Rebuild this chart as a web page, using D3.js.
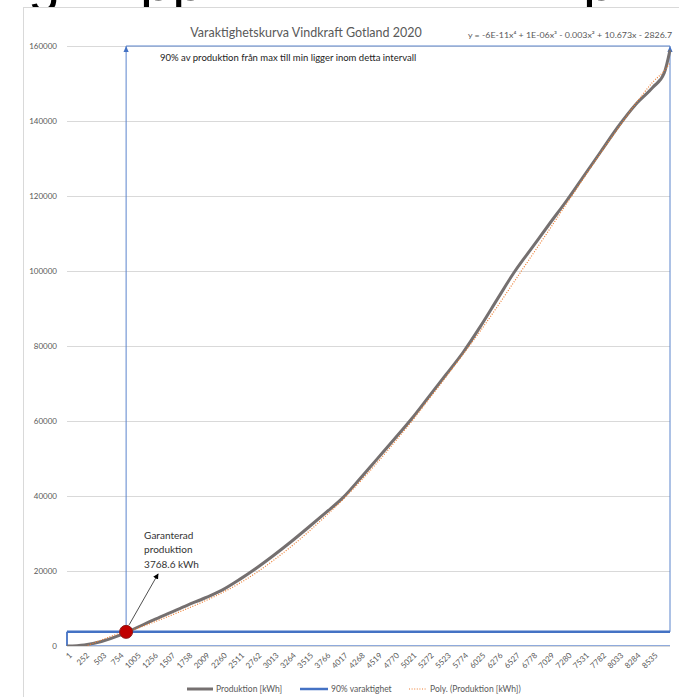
<!DOCTYPE html>
<html><head><meta charset="utf-8">
<script src="https://cdn.jsdelivr.net/npm/d3@7"></script>
<style>
body{margin:0;background:#fff;}
svg{display:block;font-family:Lato,'Open Sans',sans-serif;}
</style>
</head><body>
<svg id="c" width="679" height="697"></svg>
<script>
// ---- data ----
const hours = [1,252,503,754,1005,1256,1507,1758,2009,2260,2511,2762,3013,3264,3515,3766,4017,4268,4519,4770,5021,5272,5523,5774,6025,6276,6527,6778,7029,7280,7531,7782,8033,8284,8535,8700,8784];
const production = [0,300,1200,2750,4800,6900,8900,10900,12800,14900,17700,20800,24200,27800,31600,35500,39500,44600,49900,55200,60600,66500,72400,78400,85300,92700,100000,106300,112600,118800,125400,132000,138600,144400,149000,152800,158900];
const polyTrend = [-2800,-300,1600,3300,4600,6300,8100,10000,12000,14200,16700,19600,22900,26500,30400,34600,39000,43800,48900,54300,59900,65800,71800,77900,84100,90700,97500,104300,111100,118000,124900,131700,138200,144600,150400,153400,155500];
const xTickLabels = [1,252,503,754,1005,1256,1507,1758,2009,2260,2511,2762,3013,3264,3515,3766,4017,4268,4519,4770,5021,5272,5523,5774,6025,6276,6527,6778,7029,7280,7531,7782,8033,8284,8535];
const yTicks = [0,20000,40000,60000,80000,100000,120000,140000,160000];
const totalHours = 8784;
const guaranteedHour = 862;
const guaranteedValue = 3768.6;
const yMax = 160000;
const titleText = "Varaktighetskurva Vindkraft Gotland 2020";
const equationText = "y = -6E-11x⁴ + 1E-06x³ - 0.003x² + 10.673x - 2826.7";
const intervalText = "90% av produktion från max till min ligger inom detta intervall";
const annotationLines = ["Garanterad","produktion","3768.6 kWh"];
const legendNames = ["Produktion [kWh]","90% varaktighet","Poly. (Produktion [kWh])"];

// ---- layout ----
const svg = d3.select("#c");
const L = 67, R = 670, T = 46, B = 646;
const x = d3.scaleLinear().domain([1,totalHours]).range([L,R]);
const y = d3.scaleLinear().domain([0,yMax]).range([B,T]);
const grey = "#595959", gridC = "#d9d9d9", blue = "#4472C4";

// clipped heading descenders at the very top (page heading above the chart)
const head = svg.append("text").attr("y",0).attr("font-family","'Liberation Sans',Arial,sans-serif").attr("font-size",58).attr("fill","#000");
head.append("tspan").attr("x",28).text("g");
head.append("tspan").attr("x",140).text("pp");
head.append("tspan").attr("x",583).text("p");

// chart frame
svg.append("rect").attr("x",23.5).attr("y",7.5).attr("width",700).attr("height",700)
  .attr("fill","#fff").attr("stroke",gridC).attr("stroke-width",1);

// y axis + gridlines
const ya = svg.append("g").attr("transform",`translate(${L},0)`)
  .call(d3.axisLeft(y).tickValues(yTicks).tickSize(-(R-L)).tickPadding(10).tickFormat(d3.format("d")));
ya.select(".domain").remove();
ya.selectAll("line").attr("stroke",gridC);
ya.selectAll("text").attr("fill",grey).attr("font-size",8).attr("font-family","Lato,sans-serif");

// x axis
const xa = svg.append("g").attr("transform",`translate(0,${B})`)
  .call(d3.axisBottom(x).tickValues(xTickLabels).tickSize(0).tickFormat(d3.format("d")));
xa.select(".domain").attr("stroke",gridC).attr("d",`M${L},0.5H${R}`);
xa.selectAll("text").attr("fill",grey).attr("font-size",8).attr("font-family","Lato,sans-serif")
  .attr("text-anchor","end").attr("x",0).attr("y",0).attr("dy","0.35em")
  .attr("transform","translate(3,8) rotate(-45)");

// title & equation
svg.append("text").attr("x",306).attr("y",37).attr("text-anchor","middle")
  .attr("font-size",12.5).attr("fill",grey).text(titleText);
svg.append("text").attr("x",468).attr("y",38).attr("font-size",8)
  .attr("textLength",204).attr("lengthAdjust","spacingAndGlyphs").attr("fill",grey).text(equationText);

// clip
svg.append("clipPath").attr("id","pa").append("rect").attr("x",L).attr("y",T-6).attr("width",R-L+2).attr("height",B-T+6);

// 90% interval bracket (thin blue with arrowheads)
const xg = x(guaranteedHour), yg = y(guaranteedValue), xe = x(totalHours), yTop = y(yMax);
const br = svg.append("g").attr("stroke","#5b84cc").attr("stroke-width",1).attr("fill","none");
br.append("path").attr("d",`M${xg},${yg}V${yTop}H${xe}V${yg}`);
[xg,xe].forEach(px=>{
  svg.append("path").attr("d",`M${px},${yTop}l-2.6,6h5.2z`).attr("fill",blue);
});

// 90% box
const box = svg.append("g");
box.append("line").attr("x1",L).attr("x2",R).attr("y1",yg).attr("y2",yg).attr("stroke",blue).attr("stroke-width",2.5);
box.append("line").attr("x1",L).attr("x2",L).attr("y1",yg).attr("y2",B).attr("stroke",blue).attr("stroke-width",1.8);
box.append("line").attr("x1",L).attr("x2",R).attr("y1",B-0.5).attr("y2",B-0.5).attr("stroke","#8faadc").attr("stroke-width",1);

// lines
const line = d3.line().x((d,i)=>x(hours[i])).y(d=>y(d)).curve(d3.curveMonotoneX);
const pl = svg.append("g").attr("clip-path","url(#pa)");
pl.append("path").datum(production).attr("d",line).attr("fill","none").attr("stroke","#757070").attr("stroke-width",3).attr("stroke-linejoin","round");
pl.append("path").datum(polyTrend).attr("d",line).attr("fill","none").attr("stroke","#ED7D31").attr("stroke-width",1.2).attr("stroke-dasharray","1,1.6");

// interval text
svg.append("text").attr("x",160).attr("y",61).attr("font-size",9.5).attr("fill","#222").text(intervalText);

// guaranteed point
svg.append("circle").attr("cx",xg).attr("cy",yg).attr("r",6.5).attr("fill","#C00000").attr("stroke","#8b1a1a").attr("stroke-width",1);

// annotation arrow
svg.append("defs").append("marker").attr("id","ah").attr("viewBox","0 0 10 10").attr("refX",9).attr("refY",5)
  .attr("markerWidth",7).attr("markerHeight",7).attr("orient","auto")
  .append("path").attr("d","M0,0L10,5L0,10z").attr("fill","#000");
svg.append("line").attr("x1",xg+3).attr("y1",yg-7).attr("x2",xg+32).attr("y2",yg-58)
  .attr("stroke","#222").attr("stroke-width",0.8).attr("marker-end","url(#ah)");
const at = svg.append("text").attr("font-size",10).attr("fill","#333");
annotationLines.forEach((t,i)=>at.append("tspan").attr("x",xg+18).attr("y",yg-93+i*14.5).text(t));

// legend
const lg = svg.append("g").attr("font-size",8.5).attr("fill",grey);
const ly = 689;
lg.append("line").attr("x1",187).attr("x2",213).attr("y1",ly).attr("y2",ly).attr("stroke","#757070").attr("stroke-width",3);
lg.append("text").attr("x",216).attr("y",ly+3).text(legendNames[0]);
lg.append("line").attr("x1",300).attr("x2",328).attr("y1",ly).attr("y2",ly).attr("stroke",blue).attr("stroke-width",2.5);
lg.append("text").attr("x",331).attr("y",ly+3).text(legendNames[1]);
lg.append("line").attr("x1",409).attr("x2",427).attr("y1",ly).attr("y2",ly).attr("stroke","#ED7D31").attr("stroke-width",1.2).attr("stroke-dasharray","1,1.6");
lg.append("text").attr("x",430).attr("y",ly+3).text(legendNames[2]);
</script>
</body></html>
